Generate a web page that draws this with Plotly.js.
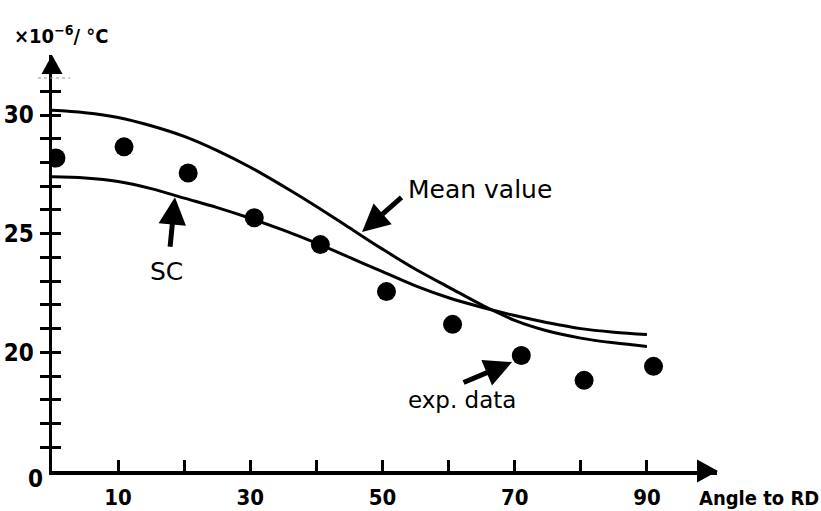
<!DOCTYPE html>
<html>
<head>
<meta charset="utf-8">
<script src="https://cdn.plot.ly/plotly-3.0.1.min.js"></script>
<style>html,body{margin:0;padding:0;background:#fff;}</style>
</head>
<body>
<div id="chart" style="width:821px;height:511px;"></div>
<script>
// ---- data ----
const angles = [0,5,10,15,20,25,30,35,40,45,50,55,60,65,70,75,80,85,90];
const meanValue = [30.2,30.1,29.9,29.55,29.1,28.5,27.8,27.0,26.15,25.25,24.35,23.5,22.75,22.0,21.35,20.9,20.6,20.4,20.25];
const scValue   = [27.4,27.35,27.2,26.9,26.5,26.1,25.65,25.15,24.6,24.0,23.4,22.8,22.3,21.9,21.55,21.25,21.0,20.85,20.75];
const expAngle  = [0.6,10.9,20.6,30.6,40.6,50.6,60.6,71,80.5,91];
const expValue  = [28.19,28.66,27.56,25.67,24.54,22.56,21.18,19.87,18.82,19.41];
const xTickVals = [10,20,30,40,50,60,70,80,90];
const xTickText = ['10','','30','','50','','70','','90'];
const yTickVals = [16,17,18,19,20,21,22,23,24,25,26,27,28,29,30,31];
const yTickText = ['','','','','20','','','','','25','','','','','30',''];

// ---- layout geometry ----
const W = 821, H = 511;
const L = 52, R = 717, T = 55, B = 471;
const pw = R - L, ph = B - T;
const px = v => (v - L) / pw;      // pixel x -> paper
const py = v => (B - v) / ph;      // pixel y -> paper
const xRange = [0, (R - L) / 6.61];
const yRange = [15, 15 + (B - T) / 23.73];

const boldFam = '"DejaVu Sans Condensed", "DejaVu Sans", sans-serif';
const tickFont = {family: boldFam, size: 24, color: '#000', weight: 'bold', stretch: 'condensed'};
const xTickFont = {family: boldFam, size: 22, color: '#000', weight: 'bold', stretch: 'condensed'};
const noteFont = {family: '"DejaVu Sans", sans-serif', size: 25, color: '#000'};

const traces = [
  {x: angles, y: meanValue, type: 'scatter', mode: 'lines', line: {color: '#000', width: 3, shape: 'spline', smoothing: 1}, hoverinfo: 'skip', yaxis: 'y'},
  {x: angles, y: scValue, type: 'scatter', mode: 'lines', line: {color: '#000', width: 3, shape: 'spline', smoothing: 1}, hoverinfo: 'skip', yaxis: 'y2'},
  {x: expAngle, y: expValue, type: 'scatter', mode: 'markers', marker: {color: '#000', size: 19}, hoverinfo: 'skip', yaxis: 'y'}
];

const layout = {
  width: W, height: H,
  margin: {l: L, r: W - R, t: T, b: H - B, pad: 0},
  paper_bgcolor: '#fff', plot_bgcolor: '#fff',
  showlegend: false,
  xaxis: {
    range: xRange, showgrid: false, zeroline: false,
    showline: true, linecolor: '#000', linewidth: 3.5,
    tickmode: 'array', tickvals: xTickVals, ticktext: xTickText,
    ticks: 'inside', ticklen: 11, tickwidth: 3, tickcolor: '#000',
    tickfont: xTickFont, ticklabelstandoff: 4
  },
  yaxis: {
    range: yRange, showgrid: false, zeroline: false,
    showline: true, linecolor: '#000', linewidth: 3.5,
    tickmode: 'array', tickvals: yTickVals, ticktext: yTickText,
    ticks: 'outside', ticklen: 9, tickwidth: 3, tickcolor: '#000',
    tickfont: tickFont, ticklabelstandoff: 1
  },
  yaxis2: {
    range: yRange, overlaying: 'y', side: 'left', showgrid: false, zeroline: false,
    showline: false, showticklabels: false,
    tickmode: 'array', tickvals: yTickVals,
    ticks: 'inside', ticklen: 9, tickwidth: 3, tickcolor: '#000'
  },
  shapes: [
    // y-axis arrowhead
    {type: 'path', xref: 'paper', yref: 'paper', fillcolor: '#000', line: {width: 0},
     path: `M ${px(52)} ${py(55)} L ${px(41.5)} ${py(74)} L ${px(62.5)} ${py(74)} Z`},
    // x-axis arrowhead
    {type: 'path', xref: 'paper', yref: 'paper', fillcolor: '#000', line: {width: 0},
     path: `M ${px(718)} ${py(471)} L ${px(697)} ${py(459.5)} L ${px(697)} ${py(482.5)} Z`},
    // faint dotted mark near the top of the y axis
    {type: 'line', xref: 'paper', yref: 'paper', x0: px(38), x1: px(70), y0: py(78), y1: py(78),
     line: {color: '#999', width: 1, dash: 'dot'}}
  ],
  annotations: [
    {xref: 'paper', yref: 'paper', x: px(12), y: py(35), xanchor: 'left', yanchor: 'middle', showarrow: false,
     text: '×10<sup>−6</sup>/ °C', font: {family: boldFam, size: 20, color: '#000', weight: 'bold', stretch: 'condensed'}},
    {xref: 'paper', yref: 'paper', x: px(35), y: py(479), xanchor: 'center', yanchor: 'middle', showarrow: false,
     text: '0', font: tickFont},
    {xref: 'paper', yref: 'paper', x: px(697), y: py(498), xanchor: 'left', yanchor: 'middle', showarrow: false,
     text: 'Angle to RD', font: {family: boldFam, size: 20, color: '#000', weight: 'bold', stretch: 'condensed'}},
    // Mean value
    {xref: 'paper', yref: 'paper', x: px(406), y: py(189), xanchor: 'left', yanchor: 'middle', showarrow: false,
     text: 'Mean value', font: noteFont},
    {xref: 'x', yref: 'y', x: 46.9, y: 25.07, ax: 41, ay: -36, text: '', showarrow: true,
     arrowhead: 2, arrowsize: 1.1, arrowwidth: 5, arrowcolor: '#000', standoff: 0},
    // SC
    {xref: 'paper', yref: 'paper', x: px(166), y: py(271), xanchor: 'center', yanchor: 'middle', showarrow: false,
     text: 'SC', font: noteFont},
    {xref: 'x', yref: 'y', x: 18.6, y: 26.54, ax: -5, ay: 51, text: '', showarrow: true,
     arrowhead: 2, arrowsize: 1.1, arrowwidth: 5, arrowcolor: '#000', standoff: 0},
    // exp. data
    {xref: 'paper', yref: 'paper', x: px(462), y: py(400), xanchor: 'center', yanchor: 'middle', showarrow: false,
     text: 'exp. data', font: {family: noteFont.family, size: 23, color: '#000'}},
    {xref: 'x', yref: 'y', x: 69.6, y: 19.59, ax: -50, ay: 21, text: '', showarrow: true,
     arrowhead: 2, arrowsize: 1.1, arrowwidth: 5, arrowcolor: '#000', standoff: 0}
  ]
};

Plotly.newPlot('chart', traces, layout, {staticPlot: true, displayModeBar: false});
</script>
</body>
</html>
